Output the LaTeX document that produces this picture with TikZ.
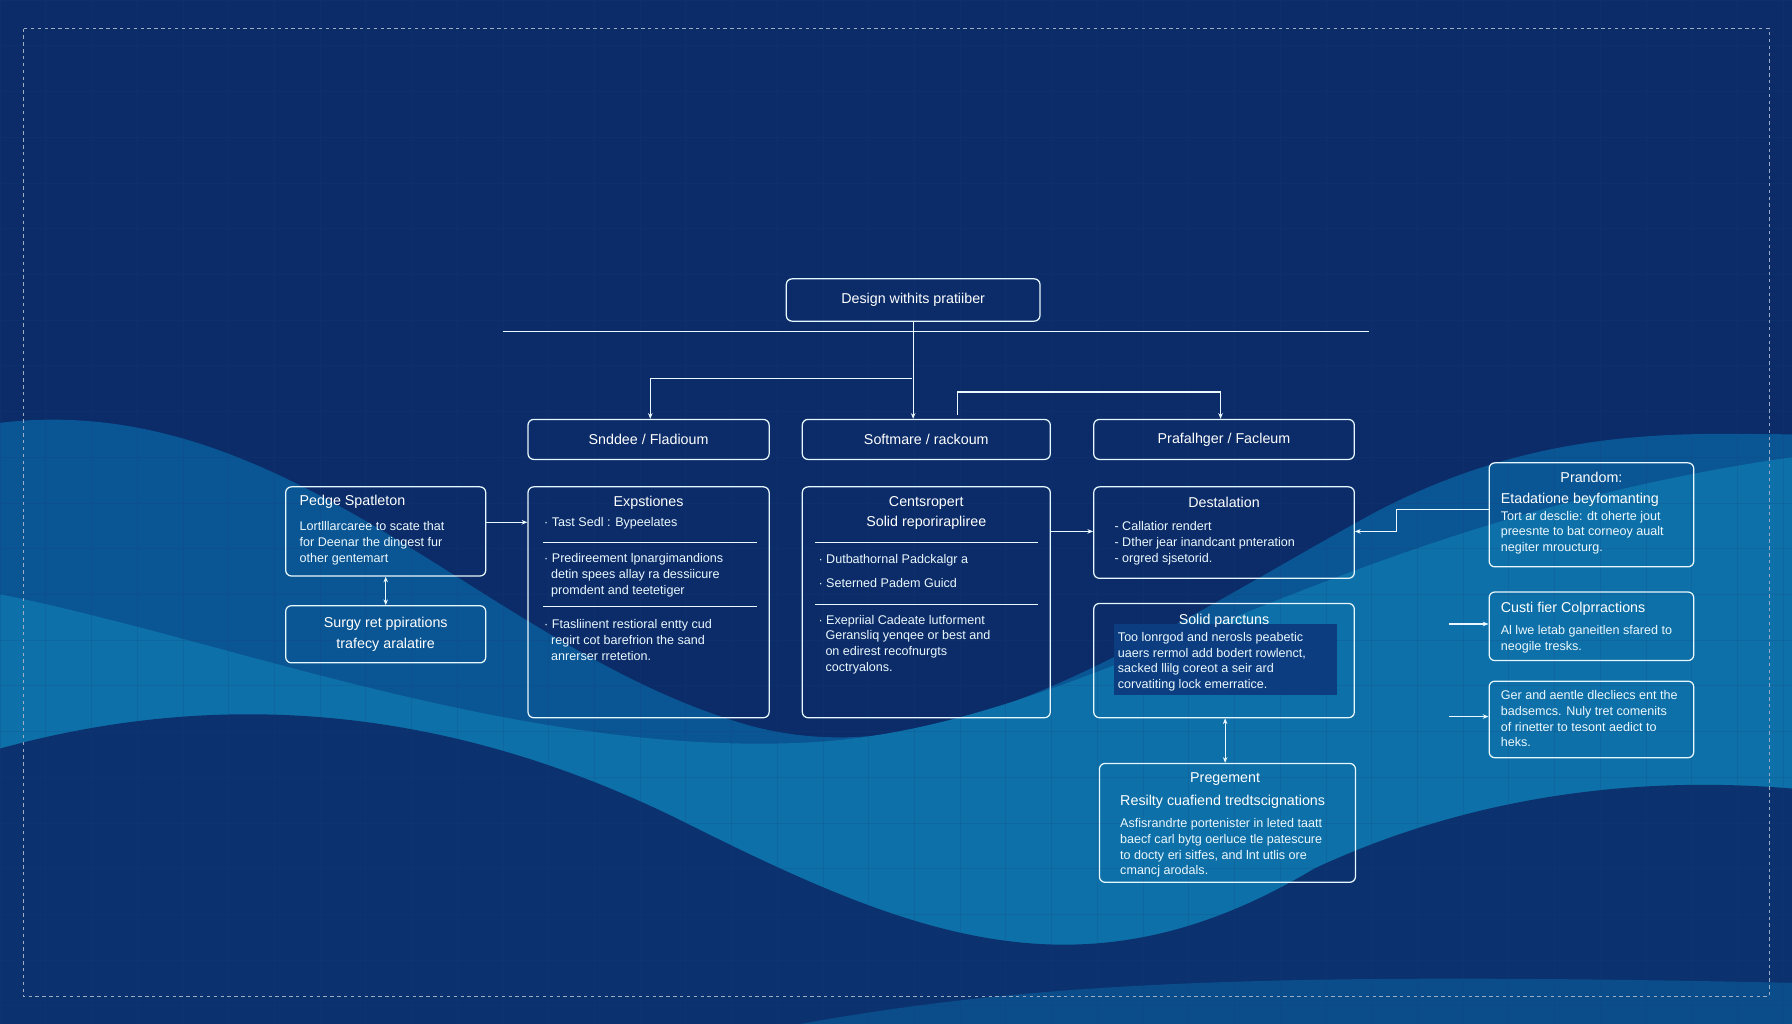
\documentclass[tikz,border=0pt]{standalone}
\usepackage{fontspec}
\setmainfont{Liberation Sans}
\usetikzlibrary{arrows.meta}
\definecolor{bgdark}{HTML}{0B2C68}
\definecolor{wave1}{HTML}{0A5593}
\definecolor{wave2}{HTML}{0E70A8}
\definecolor{gridc}{HTML}{1A3E7A}
\definecolor{inner}{HTML}{0B3D80}
\begin{document}
\begin{tikzpicture}[x=1pt,y=-1pt,
 box/.style={draw=white!90!cyan,line width=1.1pt,rounded corners=5pt,inner sep=0pt},
 ttl/.style={text=white,font=\fontsize{12.5}{15}\selectfont,inner sep=0pt},
 txt/.style={text=white!92!cyan,font=\fontsize{11}{13.8}\selectfont,inner sep=0pt,align=left},
 con/.style={draw=white!92!cyan,line width=1pt},
 arr/.style={con,-{Stealth[length=5pt,width=4pt]}},
 darr/.style={con,{Stealth[length=5pt,width=4pt]}-{Stealth[length=5pt,width=4pt]}}]
\useasboundingbox (0,0) rectangle (1568,896);
\fill[bgdark] (0,0) rectangle (1568,896);
% waves
\fill[wave1] (0,370) .. controls (250,340) and (420,560) .. (640,630) .. controls (820,690) and (1000,560) .. (1200,450) .. controls (1350,370) and (1480,380) .. (1568,380) -- (1568,896) -- (0,896) -- cycle;
\fill[wave2] (0,520) .. controls (200,560) and (450,660) .. (700,650) .. controls (950,640) and (1150,460) .. (1568,400) -- (1568,896) -- (0,896) -- cycle;
\fill[bgdark!85!wave1] (0,655) .. controls (200,600) and (400,620) .. (600,720) .. controls (800,820) and (950,880) .. (1150,760) .. controls (1300,690) and (1450,680) .. (1568,690) -- (1568,896) -- (0,896) -- cycle;
\fill[wave1!80!bgdark] (700,896) .. controls (900,860) and (1100,850) .. (1568,860) -- (1568,896) -- cycle;
% grid
\foreach \i in {0,40,...,1560} \draw[gridc,opacity=0.18,line width=0.4pt] (\i,0) -- (\i,896);
\foreach \j in {0,40,...,880} \draw[gridc,opacity=0.18,line width=0.4pt] (0,\j) -- (1568,\j);
\draw[white!60!bgdark,dashed,line width=0.6pt] (20,25) rectangle (1548,872);

% top
\node[box,minimum width=222pt,minimum height=37pt] (top) at (799,262.5) {};
\node[ttl] at (top.center) {Design withits pratiiber};
\coordinate (hl) at (440,290); \coordinate (hr) at (1198,290);
\draw[con] (hl) -- (hr);

% row
\node[box,minimum width=211pt,minimum height=35pt] (A) at (567.5,384.5) {};
\node[ttl] at (A.center) {Snddee / Fladioum};
\node[box,minimum width=217pt,minimum height=35pt] (B) at (810.5,384.5) {};
\node[ttl] at (B.center) {Softmare / rackoum};
\node[box,minimum width=228pt,minimum height=35pt] (C) at (1071,384.5) {};
\node[ttl] at (C.center) {Prafalhger / Facleum};

\coordinate (j1) at (798,331);
\draw[arr] (top.south) -- (B.north -| top.south);
\draw[arr] (j1) -| (A.north -| 569,0);
\coordinate (j2) at (838,363);
\draw[arr] (j2) |- (1068,343) -- (C.north -| 1068,0);

% left
\node[box,minimum width=175pt,minimum height=78pt] (L1) at (337.5,465) {};
\node[ttl,anchor=north west] at (262,433) {Pedge Spatleton};
\node[txt,anchor=north west] at (262,456) {Lortlllarcaree to scate that\\for Deenar the dingest fur\\other gentemart};
\node[box,minimum width=175pt,minimum height=50pt] (L2) at (337.5,555) {};
\node[ttl,align=center] at (L2.center) {Surgy ret ppirations\\[3pt]trafecy aralatire};
\draw[darr] (L1.south) -- (L2.north);

% Expstiones
\node[box,minimum width=211pt,minimum height=202pt] (E) at (567.5,527) {};
\node[ttl] at (567.5,440) {Expstiones};
\node[txt,anchor=west] at (476,458) {· Tast Sedl : Bypeelates};
\draw[con,line width=0.8pt] (475,475) -- (662,475);
\node[txt,anchor=north west] at (476,484) {· Predireement lpnargimandions\\\ \ detin spees allay ra dessiicure\\\ \ promdent and teetetiger};
\draw[con,line width=0.8pt] (475,531) -- (662,531);
\node[txt,anchor=north west] at (476,542) {· Ftasliinent restioral entty cud\\\ \ regirt cot barefrion the sand\\\ \ anrerser rretetion.};
\draw[arr] (L1.east |- 0,457) -- (E.west |- 0,457);

% Centsropert
\node[box,minimum width=217pt,minimum height=202pt] (F) at (810.5,527) {};
\node[ttl,align=center] at (810.5,449) {Centsropert\\[3pt]Solid reporirapliree};
\draw[con,line width=0.8pt] (713,475) -- (908,475);
\node[txt,anchor=west] at (716,490) {· Dutbathornal Padckalgr a};
\node[txt,anchor=west] at (716,510) {· Seterned Padem Guicd};
\draw[con,line width=0.8pt] (713,529) -- (908,529);
\node[txt,anchor=north west] at (716,538) {· Exepriial Cadeate lutforment\\\ \ Geransliq yenqee or best and\\\ \ on edirest recofnurgts\\\ \ coctryalons.};

% Destalation
\node[box,minimum width=228pt,minimum height=80pt] (D) at (1071,466) {};
\node[ttl] at (1071,440) {Destalation};
\node[txt,anchor=north west] at (975,456) {- Callatior rendert\\- Dther jear inandcant pnteration\\- orgred sjsetorid.};
\draw[arr] (F.east |- 0,465) -- (D.west |- 0,465);

% Solid parctuns
\node[box,minimum width=228pt,minimum height=100pt] (S) at (1071,578) {};
\fill[inner] (975,546) rectangle (1170,608);
\node[ttl] at (1071,543) {Solid parctuns};
\node[txt,anchor=north west] at (978,553) {Too lonrgod and nerosls peabetic\\uaers rermol add bodert rowlenct,\\sacked llilg coreot a seir ard\\corvatiting lock emerratice.};

% Pregement
\node[box,minimum width=224pt,minimum height=104pt] (P) at (1074,720) {};
\node[ttl] at (1072,682) {Pregement};
\node[ttl,anchor=west] at (980,702) {Resilty cuafiend tredtscignations};
\node[txt,anchor=north west] at (980,716) {Asfisrandrte portenister in leted taatt\\baecf carl bytg oerluce tle patescure\\to docty eri sitfes, and lnt utlis ore\\cmancj arodals.};
\draw[darr] (S.south -| 1072,0) -- (P.north -| 1072,0);

% right
\node[box,minimum width=179pt,minimum height=91pt] (R1) at (1392.5,450.5) {};
\node[ttl] at (1392.5,418) {Prandom:};
\node[ttl,anchor=west] at (1313,437) {Etadatione beyfomanting};
\node[txt,anchor=north west] at (1313,447) {Tort ar desclie: dt oherte jout\\preesnte to bat corneoy aualt\\negiter mroucturg.};
\draw[arr] (R1.west |- 0,446) -- (1222,446) |- (D.east |- 0,465);

\node[box,minimum width=179pt,minimum height=60pt] (R2) at (1392.5,548) {};
\node[ttl,anchor=west] at (1313,533) {Custi fier Colprractions};
\node[txt,anchor=north west] at (1313,547) {Al lwe letab ganeitlen sfared to\\neogile tresks.};
\coordinate (r2s) at (1268,546);
\draw[arr] (r2s) -- (R2.west |- r2s);

\node[box,minimum width=179pt,minimum height=67pt] (R3) at (1392.5,629.5) {};
\node[txt,anchor=north west] at (1313,604) {Ger and aentle dlecliecs ent the\\badsemcs. Nuly tret comenits\\of rinetter to tesont aedict to\\heks.};
\coordinate (r3s) at (1268,627);
\draw[arr] (r3s) -- (R3.west |- r3s);
\end{tikzpicture}
\end{document}
